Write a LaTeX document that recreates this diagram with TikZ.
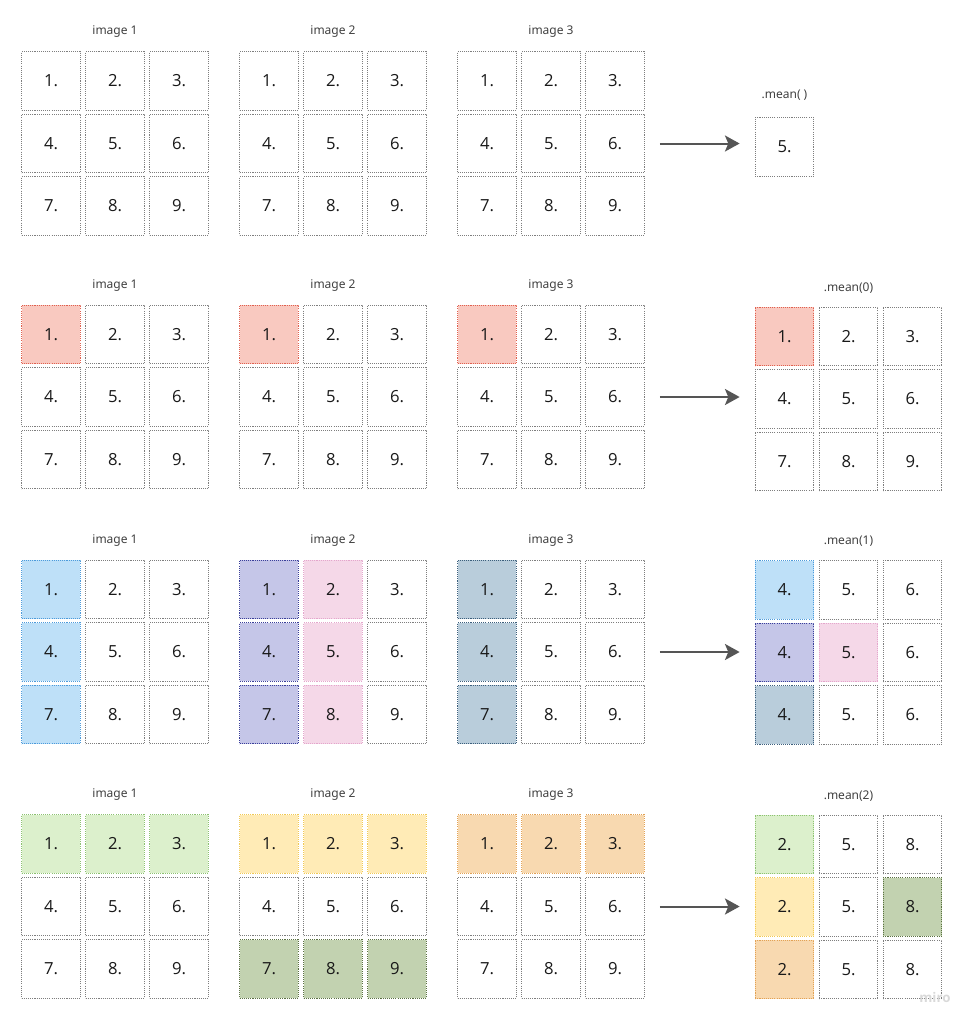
\documentclass[tikz,border=0pt]{standalone}
\usepackage{fontspec}
\setmainfont{Open Sans}
\newfontfamily\titlefont{Noto Sans}
\usetikzlibrary{arrows.meta, positioning}

% --- colours (fill / dotted border) ---
\definecolor{cellline}{HTML}{7E7E7E}
\definecolor{redfill}{HTML}{F9C9C0}  \definecolor{redline}{HTML}{E0604F}
\definecolor{bluefill}{HTML}{BEE0F8} \definecolor{blueline}{HTML}{4C9BDB}
\definecolor{purpfill}{HTML}{C5C6E8} \definecolor{purpline}{HTML}{3A3F9A}
\definecolor{pinkfill}{HTML}{F5D8E8} \definecolor{pinkline}{HTML}{E4A6CC}
\definecolor{steelfill}{HTML}{B9CDDB}\definecolor{steelline}{HTML}{3C5F7C}
\definecolor{grnfill}{HTML}{DCF0CC}  \definecolor{grnline}{HTML}{8DC271}
\definecolor{yelfill}{HTML}{FFEBB6}  \definecolor{yelline}{HTML}{F1C953}
\definecolor{orgfill}{HTML}{F8D9B0}  \definecolor{orgline}{HTML}{E2A255}
\definecolor{olvfill}{HTML}{C2D2B0}  \definecolor{olvline}{HTML}{5B7142}
\definecolor{arrowgray}{HTML}{555555}

% grid of numbered cells: name, centre of first cell, one style per cell
\newcommand{\imggrid}[4]{%
  \foreach \sty [count=\i] in {#4} {
    \pgfmathtruncatemacro{\gcol}{mod(\i-1,3)}
    \pgfmathtruncatemacro{\grow}{div(\i-1,3)}
    \node[cell, \sty] (#1-\i) at ({#2+64*\gcol}, {#3+62.5*\grow}) {\i.};
  }
}
% grid of result cells: name, centre of first cell, style/label pairs
\newcommand{\resgrid}[4]{%
  \foreach \sty/\txt [count=\i] in {#4} {
    \pgfmathtruncatemacro{\gcol}{mod(\i-1,3)}
    \pgfmathtruncatemacro{\grow}{div(\i-1,3)}
    \node[cell, \sty] (#1-\i) at ({#2+64*\gcol}, {#3+62.5*\grow}) {\txt};
  }
}

\begin{document}
\begin{tikzpicture}[
    x=0.75pt, y=-0.75pt,
    % --- Cells ---
    cell/.style={
        draw=cellline,
        line width=0.8pt,
        dash pattern=on 0.8pt off 0.8pt,
        minimum size=44pt,
        inner sep=0pt,
        font=\fontsize{12.5}{14}\selectfont,
        text=black!90
    },
    plain/.style={},
    redcell/.style={fill=redfill, draw=redline},
    bluecell/.style={fill=bluefill, draw=blueline},
    purpcell/.style={fill=purpfill, draw=purpline},
    pinkcell/.style={fill=pinkfill, draw=pinkline},
    steelcell/.style={fill=steelfill, draw=steelline},
    grncell/.style={fill=grnfill, draw=grnline},
    yelcell/.style={fill=yelfill, draw=yelline},
    orgcell/.style={fill=orgfill, draw=orgline},
    olvcell/.style={fill=olvfill, draw=olvline},
    % --- Titles ---
    title/.style={
        font=\titlefont\fontsize{9}{11}\selectfont,
        text=black!75,
        inner sep=0pt
    },
    % --- Arrows ---
    flow/.style={
        -{Stealth[length=11pt, width=12pt, inset=2.5pt]},
        line width=1.5pt,
        color=arrowgray,
        shorten <=11.25pt,
        shorten >=11.25pt
    }
]
    \useasboundingbox (0,0) rectangle (974,1026);

    % =========================================
    % 1. MEAN OVER EVERYTHING
    % =========================================
    \imggrid{b1i1}{51}{81}{plain,plain,plain,plain,plain,plain,plain,plain,plain}
    \imggrid{b1i2}{269}{81}{plain,plain,plain,plain,plain,plain,plain,plain,plain}
    \imggrid{b1i3}{487}{81}{plain,plain,plain,plain,plain,plain,plain,plain,plain}
    \node[cell] (b1r-1) at (784.5,147) {5.};

    \node[title, above=10pt of b1i1-2] (b1t1) {image 1};
    \node[title, above=10pt of b1i2-2] (b1t2) {image 2};
    \node[title, above=10pt of b1i3-2] (b1t3) {image 3};
    \node[title, above=12pt of b1r-1] (b1tr) {.mean( )};

    \draw[flow] (b1i3-6) -- (b1i3-6 -| b1r-1.west);

    % =========================================
    % 2. MEAN OVER AXIS 0
    % =========================================
    \imggrid{b2i1}{51}{334.5}{redcell,plain,plain,plain,plain,plain,plain,plain,plain}
    \imggrid{b2i2}{269}{334.5}{redcell,plain,plain,plain,plain,plain,plain,plain,plain}
    \imggrid{b2i3}{487}{334.5}{redcell,plain,plain,plain,plain,plain,plain,plain,plain}
    \resgrid{b2r}{784.5}{336.5}{redcell/1.,plain/2.,plain/3.,plain/4.,plain/5.,plain/6.,plain/7.,plain/8.,plain/9.}

    \node[title, above=10pt of b2i1-2] (b2t1) {image 1};
    \node[title, above=10pt of b2i2-2] (b2t2) {image 2};
    \node[title, above=10pt of b2i3-2] (b2t3) {image 3};
    \node[title, above=10pt of b2r-2] (b2tr) {.mean(0)};

    \draw[flow] (b2i3-6) -- (b2i3-6 -| b2r-4.west);

    % =========================================
    % 3. MEAN OVER AXIS 1
    % =========================================
    \imggrid{b3i1}{51}{589.5}{bluecell,plain,plain,bluecell,plain,plain,bluecell,plain,plain}
    \imggrid{b3i2}{269}{589.5}{purpcell,pinkcell,plain,purpcell,pinkcell,plain,purpcell,pinkcell,plain}
    \imggrid{b3i3}{487}{589.5}{steelcell,plain,plain,steelcell,plain,plain,steelcell,plain,plain}
    \resgrid{b3r}{784.5}{590}{bluecell/4.,plain/5.,plain/6.,purpcell/4.,pinkcell/5.,plain/6.,steelcell/4.,plain/5.,plain/6.}

    \node[title, above=10pt of b3i1-2] (b3t1) {image 1};
    \node[title, above=10pt of b3i2-2] (b3t2) {image 2};
    \node[title, above=10pt of b3i3-2] (b3t3) {image 3};
    \node[title, above=10pt of b3r-2] (b3tr) {.mean(1)};

    \draw[flow] (b3i3-6) -- (b3i3-6 -| b3r-4.west);

    % =========================================
    % 4. MEAN OVER AXIS 2
    % =========================================
    \imggrid{b4i1}{51}{844}{grncell,grncell,grncell,plain,plain,plain,plain,plain,plain}
    \imggrid{b4i2}{269}{844}{yelcell,yelcell,yelcell,plain,plain,plain,olvcell,olvcell,olvcell}
    \imggrid{b4i3}{487}{844}{orgcell,orgcell,orgcell,plain,plain,plain,plain,plain,plain}
    \resgrid{b4r}{784.5}{844.5}{grncell/2.,plain/5.,plain/8.,yelcell/2.,plain/5.,olvcell/8.,orgcell/2.,plain/5.,plain/8.}

    \node[title, above=10pt of b4i1-2] (b4t1) {image 1};
    \node[title, above=10pt of b4i2-2] (b4t2) {image 2};
    \node[title, above=10pt of b4i3-2] (b4t3) {image 3};
    \node[title, above=10pt of b4r-2] (b4tr) {.mean(2)};

    \draw[flow] (b4i3-6) -- (b4i3-6 -| b4r-4.west);

    % watermark
    \node[font=\bfseries\fontsize{10}{12}\selectfont, text=black!15] (wm) at (935,997) {miro};

\end{tikzpicture}
\end{document}
